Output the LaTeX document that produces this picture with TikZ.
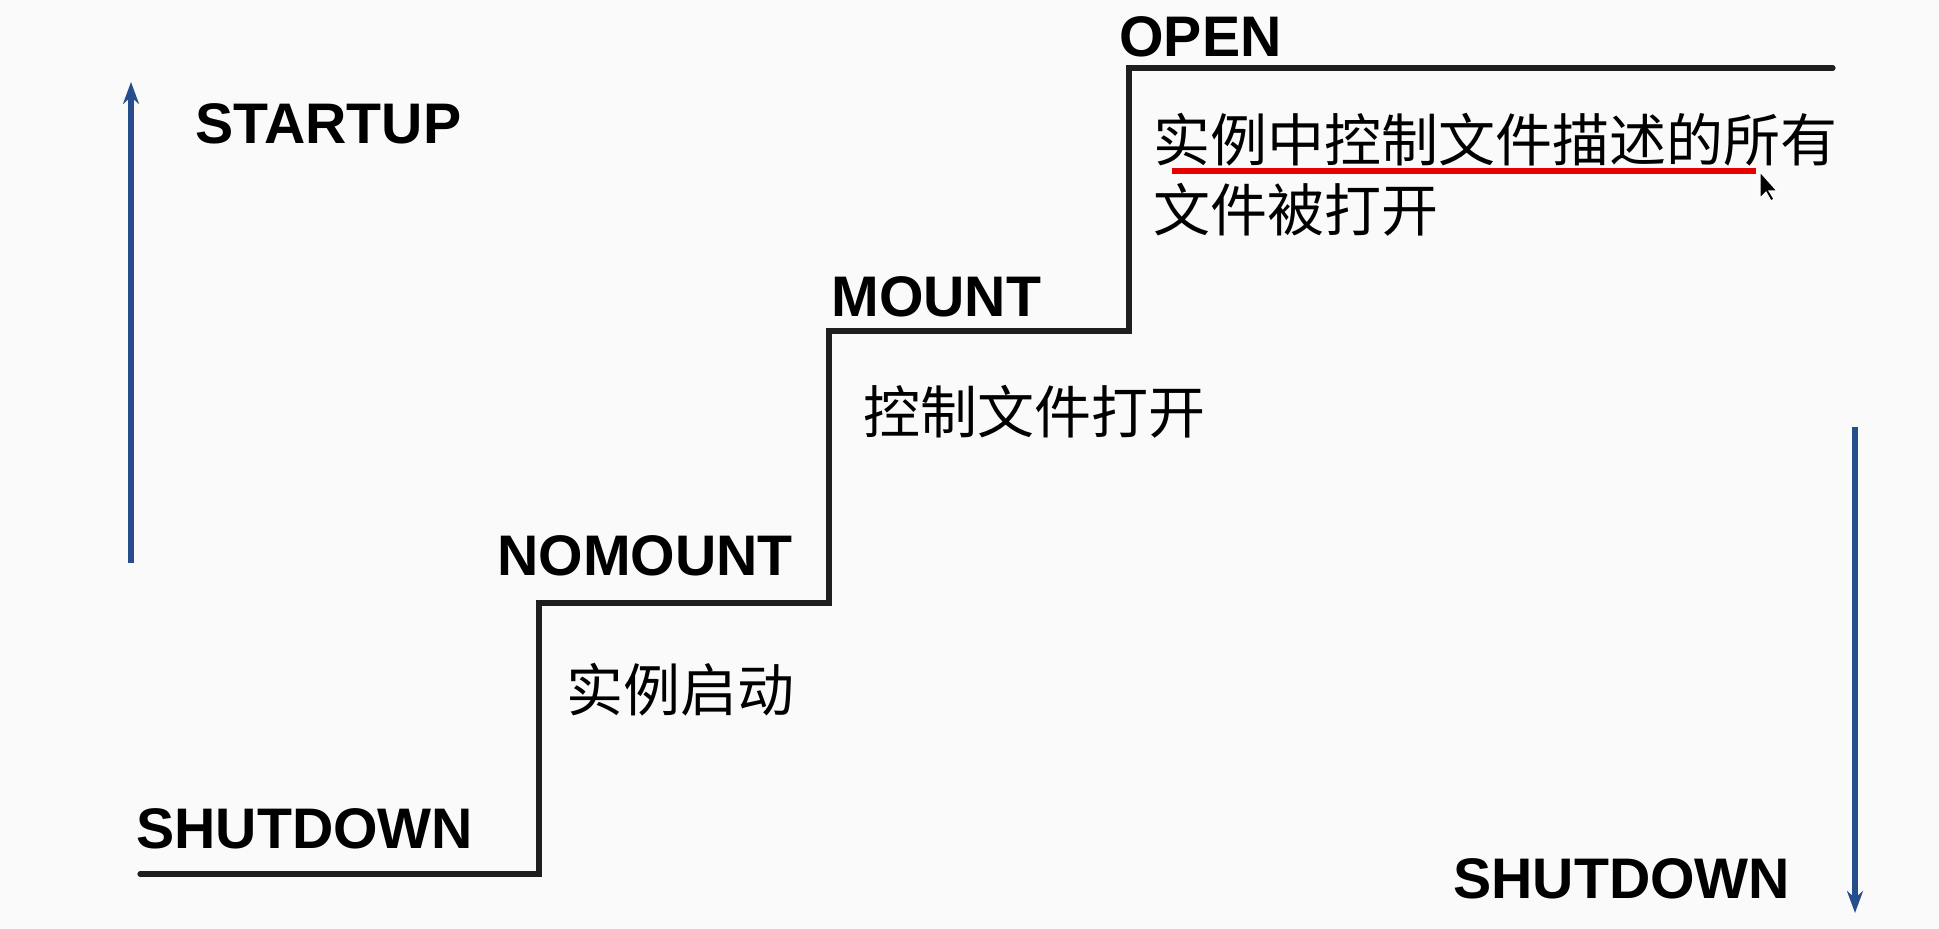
\documentclass[tikz,border=0pt]{standalone}
\usepackage{fontspec}
\setmainfont{Liberation Sans}
\newfontfamily\cjk{Noto Sans CJK SC}
\usetikzlibrary{arrows.meta}
\definecolor{bg}{RGB}{250,250,250}
\definecolor{arrowblue}{RGB}{38,78,140}
\definecolor{stair}{RGB}{30,30,30}
\definecolor{redline}{RGB}{230,0,0}
\tikzset{
  state/.style={anchor=west,inner sep=0pt,font=\fontsize{28.6}{30}\selectfont\bfseries},
  desc/.style={anchor=west,inner sep=0pt,font=\cjk\fontsize{28.5}{36}\selectfont,align=left},
  flow/.style={draw=arrowblue,line width=2.6pt,-{Stealth[length=11pt,width=8pt]}},
  stairline/.style={draw=stair,line width=2.6pt,line join=miter,line cap=round}
}
\begin{document}
\begin{tikzpicture}[x=0.5pt,y=-0.5pt]
\fill[bg] (0,0) rectangle (1939,929);
\useasboundingbox (0,0) rectangle (1939,929);
% staircase
\coordinate (s0) at (140,874);
\coordinate (s1) at (539,874);
\coordinate (s2) at (539,603);
\coordinate (s3) at (829,603);
\coordinate (s4) at (829,331);
\coordinate (s5) at (1129,331);
\coordinate (s6) at (1129,68);
\coordinate (s7) at (1833,68);
\draw[stairline] (s0) -- (s1) -- (s2) -- (s3) -- (s4) -- (s5) -- (s6) -- (s7);
% arrows
\coordinate (up0) at (131,563);
\coordinate (up1) at (131,82);
\coordinate (dn0) at (1855,427);
\coordinate (dn1) at (1855,913);
\draw[flow] (up0) -- (up1);
\draw[flow] (dn0) -- (dn1);
% state labels
\node[state] (startup) at (195,124) {STARTUP};
\node[state] (shut1) at (136,829) {SHUTDOWN};
\node[state] (nomount) at (497,556) {NOMOUNT};
\node[state] (mount) at (831,297) {MOUNT};
\node[state] (open) at (1119,37) {OPEN};
\node[state] (shut2) at (1453,879) {SHUTDOWN};
% descriptions
\node[desc] (d1) at (566,690) {实例启动};
\node[desc] (d2) at (863,412) {控制文件打开};
\node[desc] (d3a) at (1153,140) {实例中控制文件描述的所有};
\node[desc] (d3b) at (1153,210) {文件被打开};
% red underline
\coordinate (u0) at (1172,171);
\coordinate (u1) at (1756,171);
\draw[redline,line width=3pt] (u0) -- (u1);
% mouse cursor
\coordinate (c0) at (1760,172);
\draw[fill=black,draw=white,line width=0.5pt] (c0) -- ++(0,26) -- ++(6,-6) -- ++(5,9) -- ++(3,-2) -- ++(-5,-8) -- ++(8,0) -- cycle;
\end{tikzpicture}
\end{document}
